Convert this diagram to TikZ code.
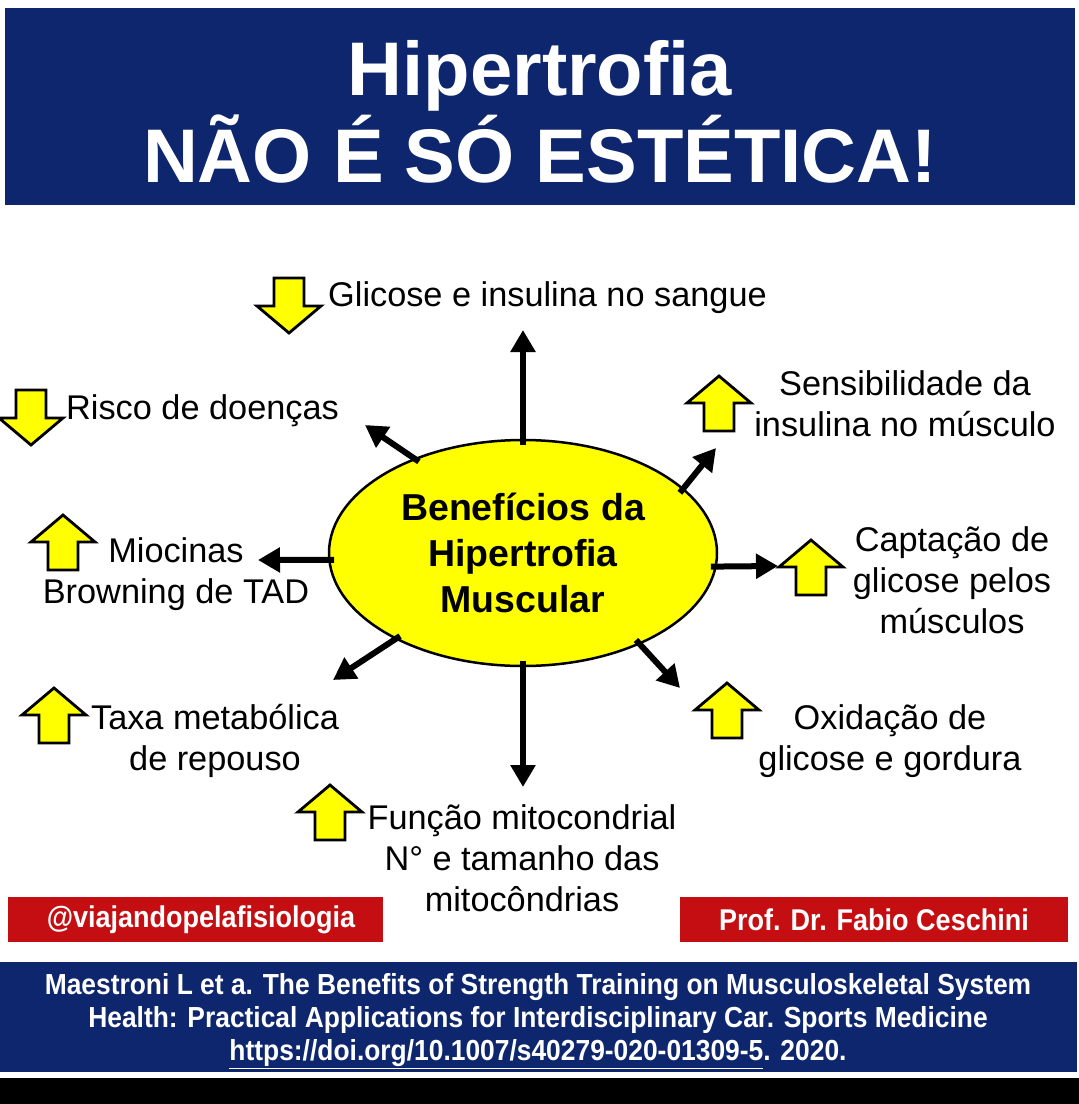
\documentclass[tikz,border=0pt]{standalone}
\usepackage{fontspec}
\setmainfont{Liberation Sans}
\newfontfamily\narrowfont{Liberation Sans}[FakeStretch=0.90]
\newfontfamily\citefont{Liberation Sans}[FakeStretch=0.91]
\usetikzlibrary{shapes.geometric,arrows.meta}
\definecolor{navy}{RGB}{14,38,110}
\definecolor{redbox}{RGB}{196,14,18}
\definecolor{yel}{RGB}{255,255,0}
\begin{document}
\begin{tikzpicture}[x=1pt,y=-1pt,
  lbl/.style={font=\fontsize{34.3}{41}\selectfont, align=center, inner sep=0},
  conn/.style={line width=6pt, -{Triangle[length=22pt,width=24pt]}, shorten <=-6pt},
  blk/.style={line width=2.8pt, fill=yel, line join=miter},
  uparr/.pic={\draw[blk] (0,0) -- (32,27) -- (15,27) -- (15,55) -- (-15,55) -- (-15,27) -- (-32,27) -- cycle;},
  boxtext/.style={text=white, font=\narrowfont\bfseries\fontsize{30}{32}\selectfont, inner sep=0}
]
\useasboundingbox (0,0) rectangle (1079,1104);
\fill[white] (0,0) rectangle (1079,1104);
% title
\node[fill=navy, minimum width=1070, minimum height=197, anchor=north west, inner sep=0] (titlebox) at (5,8) {};
\node[text=white, font=\bfseries\fontsize{76}{87}\selectfont, align=center, inner sep=0] (title) at (540,112) {Hipertrofia\\NÃO É SÓ ESTÉTICA!};
% central ellipse
\node[ellipse, draw, line width=2.5pt, fill=yel, minimum width=388, minimum height=226, inner sep=0,
      font=\bfseries\fontsize{37.5}{46}\selectfont, align=center] (C) at (523,553) {Benefícios da\\Hipertrofia\\Muscular};
% connector ends
\coordinate (e1) at (523,330);
\coordinate (e2) at (716,448);
\coordinate (e3) at (778,566);
\coordinate (e4) at (680,688);
\coordinate (e5) at (523,787);
\coordinate (e6) at (333,680);
\coordinate (e7) at (258,560);
\coordinate (e8) at (365,425);
\draw[conn] (C.90) -- (e1);
\draw[conn] (C.22) -- (e2);
\draw[conn] (C.-4) -- (e3);
\draw[conn] (C.-38) -- (e4);
\draw[conn] (C.-90) -- (e5);
\draw[conn] (C.214) -- (e6);
\draw[conn] (C.182) -- (e7);
\draw[conn] (C.139) -- (e8);
% block arrows
\pic[yscale=-1] at (289,333) {uparr};
\pic[yscale=-1] at (31,445) {uparr};
\pic at (719,376) {uparr};
\pic at (811,540) {uparr};
\pic at (727,683) {uparr};
\pic at (330,785) {uparr};
\pic at (54,688) {uparr};
\pic at (63,515) {uparr};
% labels
\node[lbl, anchor=west] (l1) at (328,298) {Glicose e insulina no sangue};
\node[lbl, anchor=west] (l2) at (66,411) {Risco de doenças};
\node[lbl] (l3) at (905,404) {Sensibilidade da\\insulina no músculo};
\node[lbl] (l4) at (952,580) {Captação de\\glicose pelos\\músculos};
\node[lbl] (l5) at (890,741) {Oxidação de\\glicose e gordura};
\node[lbl] (l6) at (522,858) {Função mitocondrial\\N° e tamanho das\\mitocôndrias};
\node[lbl] (l7) at (215,741) {Taxa metabólica\\de repouso};
\node[lbl] (l8) at (176,574) {Miocinas\\Browning de TAD};
% red boxes
\node[fill=redbox, minimum width=375, minimum height=45, inner sep=0] (rb1) at (195.5,919.5) {};
\node[boxtext] (h1) at (201,919.5) {@viajandopelafisiologia};
\node[fill=redbox, minimum width=388, minimum height=45, inner sep=0] (rb2) at (874,919.5) {};
\node[boxtext] (h2) at (rb2) {Prof. Dr. Fabio Ceschini};
% citation
\node[fill=navy, minimum width=1077, minimum height=110, anchor=north west, inner sep=0] (citebox) at (0,962) {};
\node[text=white, font=\citefont\bfseries\fontsize{29}{33}\selectfont, align=center, inner sep=0] (cite) at (538,1021)
 {Maestroni L et a. The Benefits of Strength Training on Musculoskeletal System\\
  Health: Practical Applications for Interdisciplinary Car. Sports Medicine\\
  \underline{https://doi.org/10.1007/s40279-020-01309-5}. 2020.};
\fill[black] (0,1078) rectangle (1079,1104);
\end{tikzpicture}
\end{document}
